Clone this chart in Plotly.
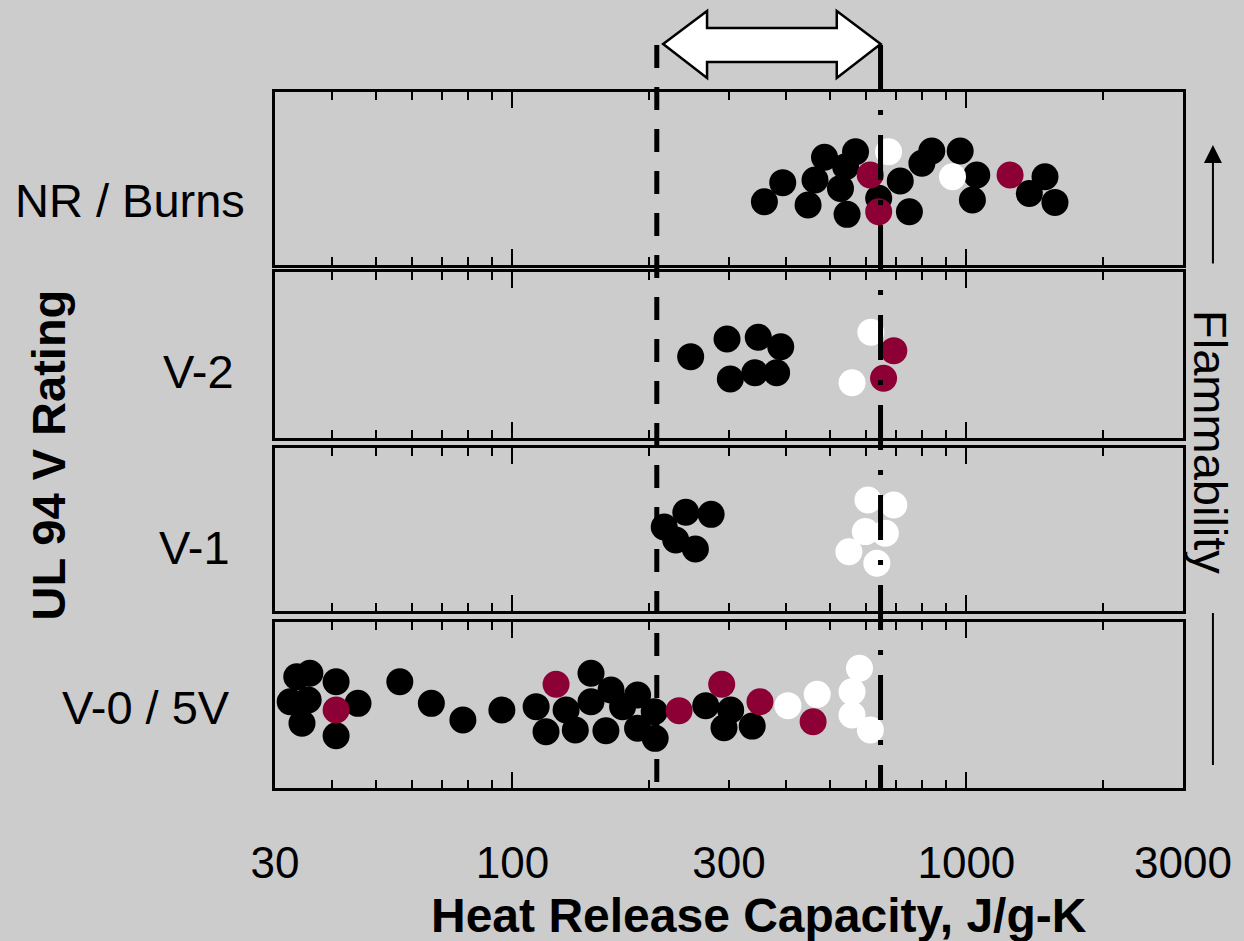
import math
import plotly.graph_objects as go

# ---------------- data ----------------
CATEGORIES = ["NR / Burns", "V-2", "V-1", "V-0 / 5V"]
X_TICK_VALUES = [30, 100, 300, 1000, 3000]
X_TICK_LABELS = ["30", "100", "300", "1000", "3000"]
X_MAJOR_MARKS = [100, 1000]
X_MINOR_MARKS = [40, 50, 60, 70, 80, 90, 200, 300, 400, 500, 600, 700, 800, 900, 2000]
X_RANGE = [30, 3000]
BOUNDARIES = [208, 647]          # J/g-K, dashed lines
X_TITLE = "Heat Release Capacity, J/g-K"
Y_TITLE = "UL 94 V Rating"
RIGHT_TITLE = "Flammability"

# classes: k = black, m = maroon, w = white
nr_hrc = [359, 394, 448, 464, 487, 528, 546, 542, 570, 614, 674, 641, 641, 715, 749,
          798, 839, 969, 932, 1054, 1031, 1248, 1490, 1376, 1567]
nr_pos = [0.366, 0.476, 0.347, 0.491, 0.623, 0.443, 0.293, 0.568, 0.655, 0.520, 0.655,
          0.386, 0.308, 0.486, 0.308, 0.588, 0.659, 0.659, 0.510, 0.520, 0.376, 0.520,
          0.510, 0.414, 0.362]
nr_cls = ["k", "k", "k", "k", "k", "k", "k", "k", "k", "m", "w", "k", "m", "k", "k",
          "k", "k", "k", "w", "k", "k", "m", "k", "k", "k"]

v2_hrc = [247, 297, 348, 390, 302, 342, 382, 616, 692, 657, 560]
v2_pos = [0.490, 0.596, 0.607, 0.550, 0.355, 0.393, 0.393, 0.637, 0.526, 0.360, 0.333]
v2_cls = ["k", "k", "k", "k", "k", "k", "k", "w", "m", "m", "w"]

v1_hrc = [216, 241, 274, 229, 253, 607, 692, 599, 663, 551, 635]
v1_pos = [0.515, 0.606, 0.593, 0.436, 0.380, 0.681, 0.650, 0.487, 0.477, 0.364, 0.293]
v1_cls = ["k", "k", "k", "k", "k", "w", "w", "w", "w", "w", "w"]

v0_hrc = [29.3, 33.5, 35.8, 32.4, 35.5, 34.4, 40.9, 40.9, 45.7, 56.5, 66.3, 77.8, 94.8,
          112.8, 118.6, 131.3, 137.6, 149, 149, 164.9, 174.9, 160.7, 188.7, 188.7, 205.3,
          206.3, 266.6, 302.6, 292.5, 337.5,
          40.9, 124.8, 232.9, 289.1, 351, 459.6,
          404.5, 469.2, 581.5, 559.9, 559.9, 614.4]
v0_pos = [0.510, 0.670, 0.691, 0.520, 0.530, 0.390, 0.640, 0.315, 0.510, 0.640, 0.510,
          0.410, 0.470, 0.490, 0.339, 0.470, 0.349, 0.691, 0.520, 0.590, 0.490, 0.345,
          0.560, 0.360, 0.460, 0.299, 0.496, 0.470, 0.363, 0.373,
          0.470, 0.625, 0.466, 0.625, 0.520, 0.399,
          0.496, 0.564, 0.721, 0.580, 0.440, 0.349]
v0_cls = ["k"] * 30 + ["m"] * 6 + ["w"] * 6

PANELS = [(nr_hrc, nr_pos, nr_cls), (v2_hrc, v2_pos, v2_cls),
          (v1_hrc, v1_pos, v1_cls), (v0_hrc, v0_pos, v0_cls)]

# ---------------- style ----------------
BG = "#cccccc"
COLORS = {"k": "#000000", "m": "#8c0036", "w": "#ffffff"}
FONT = "Liberation Sans, Arial, sans-serif"
W, H = 1244, 941
L, R, T, B = 275, 59, 92, 153
PW, PH = W - L - R, H - T - B
DOMAINS = [[0.7514, 1.0], [0.5029, 0.7414], [0.2543, 0.4885], [0.0, 0.2385]]


def px_x(px):
    return (px - L) / PW


def px_y(py):
    return (H - B - py) / PH


fig = go.Figure()
for i, (hrc, pos, cls) in enumerate(PANELS, start=1):
    for c in ["k", "m", "w"]:
        xs = [h for h, k in zip(hrc, cls) if k == c]
        ys = [p for p, k in zip(pos, cls) if k == c]
        if not xs:
            continue
        fig.add_trace(go.Scatter(
            x=xs, y=ys, mode="markers", xaxis=f"x{i}", yaxis=f"y{i}",
            marker=dict(size=27, color=COLORS[c], line=dict(width=0)),
            cliponaxis=False, showlegend=False, hoverinfo="x"))

# label axis trace (empty) so overlay axis is drawn
fig.add_trace(go.Scatter(x=[], y=[], xaxis="x5", yaxis="y4", showlegend=False))

xr = [math.log10(X_RANGE[0]), math.log10(X_RANGE[1])]
layout = dict(
    width=W, height=H, paper_bgcolor=BG, plot_bgcolor=BG,
    margin=dict(l=L, r=R, t=T, b=B),
    font=dict(family=FONT, color="black", size=44),
    showlegend=False,
)
for i in range(1, 5):
    layout[f"xaxis{i}"] = dict(
        type="log", range=xr, domain=[0, 1], anchor=f"y{i}",
        showline=True, linecolor="black", linewidth=2.5, mirror="allticks",
        ticks="inside", tickvals=X_MAJOR_MARKS, ticklen=16, tickwidth=2, tickcolor="black",
        showticklabels=False, showgrid=False, zeroline=False,
        minor=dict(tickvals=X_MINOR_MARKS, ticks="inside", ticklen=8, tickwidth=2,
                   tickcolor="black", showgrid=False),
    )
    layout[f"yaxis{i}"] = dict(
        domain=DOMAINS[i - 1], range=[0, 1], anchor=f"x{i}",
        showline=True, linecolor="black", linewidth=2.5, mirror=True,
        ticks="", showticklabels=False, showgrid=False, zeroline=False,
    )
layout["xaxis5"] = dict(
    type="log", range=xr, overlaying="x4", anchor="y4", side="bottom",
    tickvals=X_TICK_VALUES, ticktext=X_TICK_LABELS,
    ticks="outside", ticklen=36, tickcolor="rgba(0,0,0,0)",
    showline=False, showgrid=False, zeroline=False,
    tickfont=dict(size=44, family=FONT, color="black"),
)
fig.update_layout(**layout)

# dashed boundary lines (shape positions on a log axis are given in data units)
dashes = ["23px,19px", "45px,20px,5px,20px"]
for val, dash in zip(BOUNDARIES, dashes):
    fig.add_shape(type="line", xref="x4", yref="paper",
                  x0=val, x1=val, y0=px_y(45), y1=0,
                  line=dict(color="black", width=5, dash=dash), layer="above")

# double-headed white arrow over the boundary region
xa, xb, xc, xd = px_x(664), px_x(708), px_x(838), px_x(882)
ym, yt, yst, ysb, yb = px_y(44), px_y(11), px_y(28), px_y(62), px_y(78)
path = (f"M {xa},{ym} L {xb},{yt} L {xb},{yst} L {xc},{yst} L {xc},{yt} L {xd},{ym} "
        f"L {xc},{yb} L {xc},{ysb} L {xb},{ysb} L {xb},{yb} Z")
fig.add_shape(type="path", path=path, xref="paper", yref="paper",
              fillcolor="white", line=dict(color="black", width=2.5), layer="above")

# category labels
cat_pos = [(247, 200), (236, 372), (232, 547), (232, 707)]
for txt, (rx, cy) in zip(CATEGORIES, cat_pos):
    fig.add_annotation(text=txt, xref="paper", yref="paper", x=px_x(rx), y=px_y(cy),
                       xanchor="right", yanchor="middle", showarrow=False,
                       font=dict(size=47, family=FONT, color="black"))

fig.add_annotation(text=f"<b>{Y_TITLE}</b>", xref="paper", yref="paper",
                   x=px_x(47), y=px_y(455), textangle=-90, showarrow=False,
                   xanchor="center", yanchor="middle",
                   font=dict(size=47, family=FONT, color="black"))
fig.add_annotation(text=f"<b>{X_TITLE}</b>", xref="paper", yref="paper",
                   x=px_x(760), y=px_y(915), showarrow=False,
                   xanchor="center", yanchor="middle",
                   font=dict(size=48, family=FONT, color="black"))
fig.add_annotation(text=RIGHT_TITLE, xref="paper", yref="paper",
                   x=px_x(1213), y=px_y(442), textangle=90, showarrow=False,
                   xanchor="center", yanchor="middle",
                   font=dict(size=47, family=FONT, color="black"))
# flammability arrow
fig.add_annotation(text="", xref="paper", yref="paper", x=px_x(1215), y=px_y(145),
                   ax=0, ay=120, showarrow=True, arrowhead=2, arrowsize=1.8,
                   arrowwidth=2, arrowcolor="black")
fig.add_shape(type="line", xref="paper", yref="paper", x0=px_x(1215), x1=px_x(1215),
              y0=px_y(613), y1=px_y(765), line=dict(color="black", width=2))

fig.write_html("out.html")
